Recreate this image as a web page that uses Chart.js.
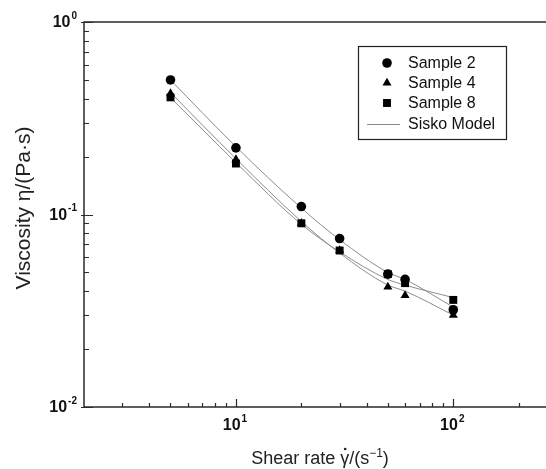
<!DOCTYPE html>
<html>
<head>
<meta charset="utf-8">
<script src="https://cdn.jsdelivr.net/npm/chart.js@4.4.1/dist/chart.umd.min.js"></script>
<style>
  html, body { margin: 0; padding: 0; background: #fff; }
  #wrap { width: 546px; height: 469px; }
</style>
</head>
<body>
<div id="wrap"><canvas id="chart" width="546" height="469"></canvas></div>
<script>
const shearRates = [5, 10, 20, 30, 50, 60, 100];
const sample2 = [0.50, 0.222, 0.110, 0.075, 0.049, 0.046, 0.032];
const sample4 = [0.425, 0.193, 0.090, 0.065, 0.042, 0.038, 0.030];
const sample8 = [0.406, 0.184, 0.090, 0.065, 0.049, 0.044, 0.036];

// Sisko model curves at the same shear rates
const model2 = [0.50, 0.225, 0.108, 0.074, 0.050, 0.046, 0.033];
const model4 = [0.43, 0.195, 0.092, 0.063, 0.043, 0.040, 0.030];
const model8 = [0.405, 0.186, 0.089, 0.064, 0.046, 0.043, 0.037];

// axis ticks
const xMajorTicks = [10, 100];
const xMajorExp = ['1', '2'];
const xMinorTicks = [3, 4, 5, 6, 7, 8, 9, 20, 30, 40, 50, 60, 70, 80, 90, 200];
const yMajorTicks = [1, 0.1, 0.01];
const yMajorExp = ['0', '-1', '-2'];
const yMinorTicks = [0.02, 0.03, 0.04, 0.05, 0.06, 0.07, 0.08, 0.09,
                     0.2, 0.3, 0.4, 0.5, 0.6, 0.7, 0.8, 0.9];

const legendLabels = ['Sample 2', 'Sample 4', 'Sample 8', 'Sisko Model'];

const FONT = '"Liberation Sans", Arial, sans-serif';
const toPoints = (ys) => shearRates.map((x, i) => ({ x: x, y: ys[i] }));

function drawPow(ctx, base, exp, x, y, align) {
    ctx.font = 'bold 16px ' + FONT;
    const wb = ctx.measureText(base).width;
    ctx.font = 'bold 10px ' + FONT;
    const we = ctx.measureText(exp).width;
    const total = wb + we + 1;
    let x0 = x;
    if (align === 'right') x0 = x - total;
    if (align === 'center') x0 = x - total / 2;
    ctx.textAlign = 'left';
    ctx.textBaseline = 'middle';
    ctx.font = 'bold 16px ' + FONT;
    ctx.fillText(base, x0, y);
    ctx.font = 'bold 10px ' + FONT;
    ctx.fillText(exp, x0 + wb + 1, y - 7);
}

const framePlugin = {
    id: 'frame',
    afterDraw(chart) {
        const ctx = chart.ctx;
        const { left, right, top, bottom } = chart.chartArea;
        const xs = chart.scales.x;
        const ys = chart.scales.y;
        ctx.save();
        ctx.strokeStyle = '#2a2a2a';
        ctx.lineWidth = 1.5;
        ctx.beginPath();
        ctx.moveTo(right, top);
        ctx.lineTo(left, top);
        ctx.lineTo(left, bottom);
        ctx.lineTo(right, bottom);
        ctx.stroke();

        // inward ticks
        ctx.lineWidth = 1.2;
        ctx.beginPath();
        xMinorTicks.forEach(v => {
            const px = Math.round(xs.getPixelForValue(v)) + 0.5;
            ctx.moveTo(px, bottom); ctx.lineTo(px, bottom - 4);
        });
        xMajorTicks.forEach(v => {
            const px = Math.round(xs.getPixelForValue(v)) + 0.5;
            ctx.moveTo(px, bottom); ctx.lineTo(px, bottom - 8);
        });
        yMinorTicks.forEach(v => {
            const py = Math.round(ys.getPixelForValue(v)) + 0.5;
            ctx.moveTo(left, py); ctx.lineTo(left + 5, py);
        });
        yMajorTicks.forEach(v => {
            const py = Math.round(ys.getPixelForValue(v)) + 0.5;
            ctx.moveTo(left - 3, py); ctx.lineTo(left + 9, py);
        });
        ctx.stroke();

        // tick labels with superscript exponents
        ctx.fillStyle = '#111';
        yMajorTicks.forEach((v, i) => {
            drawPow(ctx, '10', yMajorExp[i], left - 7, ys.getPixelForValue(v) + 1, 'right');
        });
        xMajorTicks.forEach((v, i) => {
            drawPow(ctx, '10', xMajorExp[i], xs.getPixelForValue(v) - 1, bottom + 19, 'center');
        });

        // x title: "Shear rate γ̇/(s⁻¹)"
        ctx.fillStyle = '#222';
        ctx.textBaseline = 'alphabetic';
        ctx.textAlign = 'left';
        const big = '18px ' + FONT, small = '12px ' + FONT;
        const parts = [
            ['Shear rate ', big, 0],
            ['\u03B3', big, 0],
            ['/(s', big, 0],
            ['\u22121', small, -7],
            [')', big, 0]
        ];
        let total = 0;
        parts.forEach(p => { ctx.font = p[1]; p.push(ctx.measureText(p[0]).width); total += p[3]; });
        let tx = 320 - total / 2;
        const ty = 464;
        parts.forEach((p, i) => {
            ctx.font = p[1];
            ctx.fillText(p[0], tx, ty + p[2]);
            if (i === 1) {
                ctx.beginPath();
                ctx.arc(tx + p[3] / 2 + 0.5, ty - 15, 1.3, 0, Math.PI * 2);
                ctx.fill();
            }
            tx += p[3];
        });

        // y title
        ctx.save();
        ctx.translate(24, 208);
        ctx.rotate(-Math.PI / 2);
        ctx.textAlign = 'center';
        ctx.textBaseline = 'middle';
        ctx.font = '21px ' + FONT;
        ctx.fillText('Viscosity \u03B7/(Pa\u00B7s)', 0, 0);
        ctx.restore();

        // legend box
        const bx = 358, by = 46, bw = 148, bh = 93;
        ctx.strokeStyle = '#222';
        ctx.lineWidth = 1.2;
        ctx.strokeRect(bx + 0.5, by + 0.5, bw, bh);
        const rowsY = [63, 83, 103, 124];
        const sets = chart.data.datasets.filter(d => !d.showLine);
        ctx.fillStyle = '#000';
        sets.forEach((d, i) => {
            Chart.helpers.drawPoint(ctx, {
                pointStyle: d.pointStyle, radius: d.pointRadius,
                borderWidth: 0, rotation: 0
            }, 387, rowsY[i]);
        });
        ctx.strokeStyle = '#888';
        ctx.lineWidth = 1;
        ctx.beginPath();
        ctx.moveTo(367, rowsY[3] + 0.5);
        ctx.lineTo(400, rowsY[3] + 0.5);
        ctx.stroke();
        ctx.fillStyle = '#111';
        ctx.font = '16px ' + FONT;
        ctx.textAlign = 'left';
        ctx.textBaseline = 'middle';
        legendLabels.forEach((t, i) => ctx.fillText(t, 408, rowsY[i] + 1));
        ctx.restore();
    }
};

function modelSet(ys) {
    return {
        data: toPoints(ys),
        showLine: true,
        borderColor: '#8c8c8c',
        borderWidth: 1,
        pointRadius: 0,
        cubicInterpolationMode: 'monotone',
        order: 2
    };
}

function sampleSet(ys, style, r) {
    return {
        data: toPoints(ys),
        showLine: false,
        pointStyle: style,
        pointRadius: r,
        backgroundColor: '#000',
        borderColor: '#000',
        borderWidth: 0,
        order: 1
    };
}

new Chart(document.getElementById('chart'), {
    type: 'scatter',
    data: {
        datasets: [
            modelSet(model2),
            modelSet(model4),
            modelSet(model8),
            sampleSet(sample2, 'circle', 4.8),
            sampleSet(sample4, 'triangle', 5.2),
            sampleSet(sample8, 'rect', 5.6)
        ]
    },
    options: {
        responsive: false,
        animation: false,
        layout: { autoPadding: false, padding: { top: 22, right: 0, left: 0, bottom: 0 } },
        plugins: {
            legend: { display: false },
            tooltip: { enabled: false }
        },
        scales: {
            x: {
                type: 'logarithmic',
                min: 2,
                max: 267,
                grid: { display: false },
                border: { display: false },
                ticks: { display: false },
                afterFit: (s) => { s.height = 62; }
            },
            y: {
                type: 'logarithmic',
                min: 0.01,
                max: 1,
                grid: { display: false },
                border: { display: false },
                ticks: { display: false },
                afterFit: (s) => { s.width = 84; }
            }
        }
    },
    plugins: [framePlugin]
});
</script>
</body>
</html>
